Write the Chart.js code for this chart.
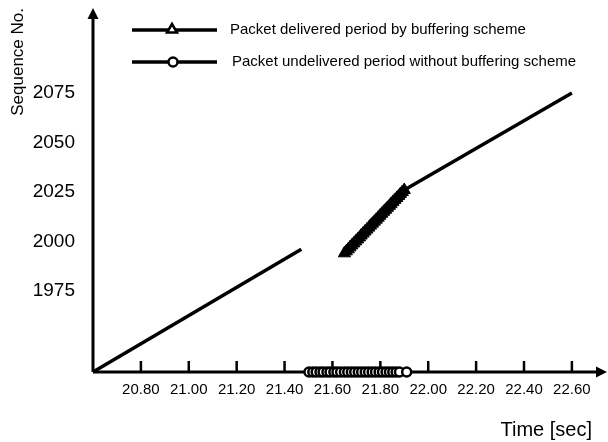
<!DOCTYPE html>
<html>
<head>
<meta charset="utf-8">
<script src="https://cdn.jsdelivr.net/npm/chart.js@4/dist/chart.umd.min.js"></script>
<style>body{margin:0;background:#fff}</style>
</head>
<body>
<canvas id="chart" width="608" height="442"></canvas>
<script>
  // Data
  const xTicks = [20.80, 21.00, 21.20, 21.40, 21.60, 21.80, 22.00, 22.20, 22.40, 22.60];
  const yTicks = [1975, 2000, 2025, 2050, 2075];

  const beforeTimes = [20.60, 21.47];
  const beforeSeq = [1934, 1996];

  const deliveredTimes = [21.650, 21.658, 21.666, 21.673, 21.681, 21.689, 21.697, 21.705, 21.713, 21.720,
    21.728, 21.736, 21.744, 21.752, 21.759, 21.767, 21.775, 21.783, 21.791, 21.798, 21.806, 21.814,
    21.822, 21.830, 21.838, 21.845, 21.853, 21.861, 21.869, 21.877, 21.884, 21.892, 21.900];
  const deliveredSeq = [1994, 1995, 1996, 1997, 1998, 1999, 2000, 2001, 2002, 2003, 2004, 2005, 2006,
    2007, 2008, 2009, 2010, 2011, 2012, 2013, 2014, 2015, 2016, 2017, 2018, 2019, 2020, 2021, 2022,
    2023, 2024, 2025, 2026];

  const afterTimes = [21.90, 22.60];
  const afterSeq = [2026, 2075];

  const undeliveredTimes = [21.502, 21.518, 21.532, 21.548, 21.561, 21.577, 21.590, 21.606, 21.619,
    21.634, 21.650, 21.664, 21.679, 21.693, 21.708, 21.722, 21.737, 21.751, 21.766, 21.780, 21.795,
    21.809, 21.824, 21.838, 21.852, 21.866, 21.880, 21.910];
  const undeliveredSeq = [1934, 1934, 1934, 1934, 1934, 1934, 1934, 1934, 1934, 1934, 1934, 1934, 1934,
    1934, 1934, 1934, 1934, 1934, 1934, 1934, 1934, 1934, 1934, 1934, 1934, 1934, 1934, 1934];

  const legendLabels = ['Packet delivered period by buffering scheme',
    'Packet undelivered period without buffering scheme'];

  const FONT = 'Arial, "Liberation Sans", sans-serif';

  const toPoints = (xs, ys) => xs.map((x, i) => ({ x: x, y: ys[i] }));

  // axes with arrows and upward tick marks
  const axesPlugin = {
    id: 'axes',
    beforeDatasetsDraw(chart) {
      const ctx = chart.ctx;
      const ca = chart.chartArea;
      const x0 = ca.left, y0 = ca.bottom;
      const xEnd = ca.right + 15;
      ctx.save();
      ctx.strokeStyle = '#000';
      ctx.fillStyle = '#000';
      ctx.lineWidth = 3;
      ctx.beginPath();
      ctx.moveTo(x0, y0);
      ctx.lineTo(x0, ca.top + 8);
      ctx.moveTo(x0, y0);
      ctx.lineTo(xEnd - 8, y0);
      ctx.stroke();
      // arrow heads
      ctx.beginPath();
      ctx.moveTo(x0, ca.top);
      ctx.lineTo(x0 - 5.5, ca.top + 11);
      ctx.lineTo(x0 + 5.5, ca.top + 11);
      ctx.closePath();
      ctx.fill();
      ctx.beginPath();
      ctx.moveTo(xEnd, y0);
      ctx.lineTo(xEnd - 11, y0 - 5.5);
      ctx.lineTo(xEnd - 11, y0 + 5.5);
      ctx.closePath();
      ctx.fill();
      // tick marks
      ctx.lineWidth = 2.5;
      ctx.beginPath();
      xTicks.forEach(v => {
        const px = chart.scales.x.getPixelForValue(v);
        ctx.moveTo(px, y0 - 11);
        ctx.lineTo(px, y0);
      });
      ctx.stroke();
      ctx.restore();
    }
  };

  // legend drawn at the top
  const legendPlugin = {
    id: 'customLegend',
    afterDraw(chart) {
      const ctx = chart.ctx;
      const rows = [
        { y: 30, label: legendLabels[0], marker: 'triangle', mx: 172, tx: 230 },
        { y: 62, label: legendLabels[1], marker: 'circle', mx: 173, tx: 232 }
      ];
      ctx.save();
      rows.forEach(r => {
        ctx.strokeStyle = '#000';
        ctx.lineWidth = 3.5;
        ctx.beginPath();
        ctx.moveTo(132, r.y);
        ctx.lineTo(217, r.y);
        ctx.stroke();
        ctx.lineWidth = 2.5;
        ctx.fillStyle = '#fff';
        ctx.beginPath();
        if (r.marker === 'triangle') {
          ctx.moveTo(r.mx, r.y - 6);
          ctx.lineTo(r.mx - 5, r.y + 2.5);
          ctx.lineTo(r.mx + 5, r.y + 2.5);
          ctx.closePath();
        } else {
          ctx.arc(r.mx, r.y, 4.5, 0, Math.PI * 2);
        }
        ctx.fill();
        ctx.stroke();
        ctx.fillStyle = '#000';
        ctx.font = '15px ' + FONT;
        ctx.textBaseline = 'middle';
        ctx.textAlign = 'left';
        ctx.fillText(r.label, r.tx, r.y);
      });
      ctx.restore();
    }
  };

  const ctx = document.getElementById('chart').getContext('2d');
  const chart = new Chart(ctx, {
    type: 'scatter',
    data: {
      datasets: [
        {
          data: toPoints(beforeTimes, beforeSeq),
          showLine: true,
          borderColor: '#000',
          borderWidth: 3.5,
          pointRadius: 0,
          clip: false
        },
        {
          data: toPoints(afterTimes, afterSeq),
          showLine: true,
          borderColor: '#000',
          borderWidth: 3.5,
          pointRadius: 0,
          clip: false
        },
        {
          data: toPoints(deliveredTimes, deliveredSeq),
          showLine: true,
          borderColor: '#000',
          borderWidth: 6,
          pointStyle: 'triangle',
          pointRadius: 7,
          pointBorderWidth: 1,
          pointBackgroundColor: '#000',
          pointBorderColor: '#000',
          clip: false
        },
        {
          data: toPoints(undeliveredTimes, undeliveredSeq),
          showLine: false,
          pointStyle: 'circle',
          pointRadius: 4.5,
          pointBorderWidth: 2.5,
          pointBackgroundColor: '#fff',
          pointBorderColor: '#000',
          clip: false
        }
      ]
    },
    options: {
      responsive: false,
      animation: false,
      layout: { padding: { top: 5, right: 16, left: 0, bottom: 0 } },
      plugins: { legend: { display: false }, tooltip: { enabled: false } },
      scales: {
        x: {
          type: 'linear',
          min: 20.60,
          max: 22.684,
          grid: { display: false },
          border: { display: false },
          afterBuildTicks: s => { s.ticks = xTicks.map(v => ({ value: v })); },
          afterFit: s => { s.height = 70; s.paddingLeft = 0; s.paddingRight = 0; },
          ticks: {
            color: '#000',
            font: { family: FONT, size: 15 },
            padding: 1,
            maxRotation: 0,
            autoSkip: false,
            callback: v => v.toFixed(2)
          },
          title: {
            display: true,
            text: 'Time [sec]',
            align: 'end',
            color: '#000',
            font: { family: FONT, size: 20 },
            padding: { top: 0, bottom: 0 }
          }
        },
        y: {
          type: 'linear',
          min: 1934,
          max: 2118,
          grid: { display: false },
          border: { display: false },
          afterBuildTicks: s => { s.ticks = yTicks.map(v => ({ value: v })); },
          afterFit: s => { s.width = 93; s.paddingTop = 0; s.paddingBottom = 0; },
          ticks: {
            color: '#000',
            font: { family: FONT, size: 19 },
            padding: 10,
            autoSkip: false,
            callback: v => String(v)
          },
          title: {
            display: true,
            text: 'Sequence No.',
            align: 'end',
            color: '#000',
            font: { family: FONT, size: 17 },
            padding: { top: 8, bottom: 0 }
          }
        }
      }
    },
    plugins: [axesPlugin, legendPlugin]
  });
</script>
</body>
</html>
